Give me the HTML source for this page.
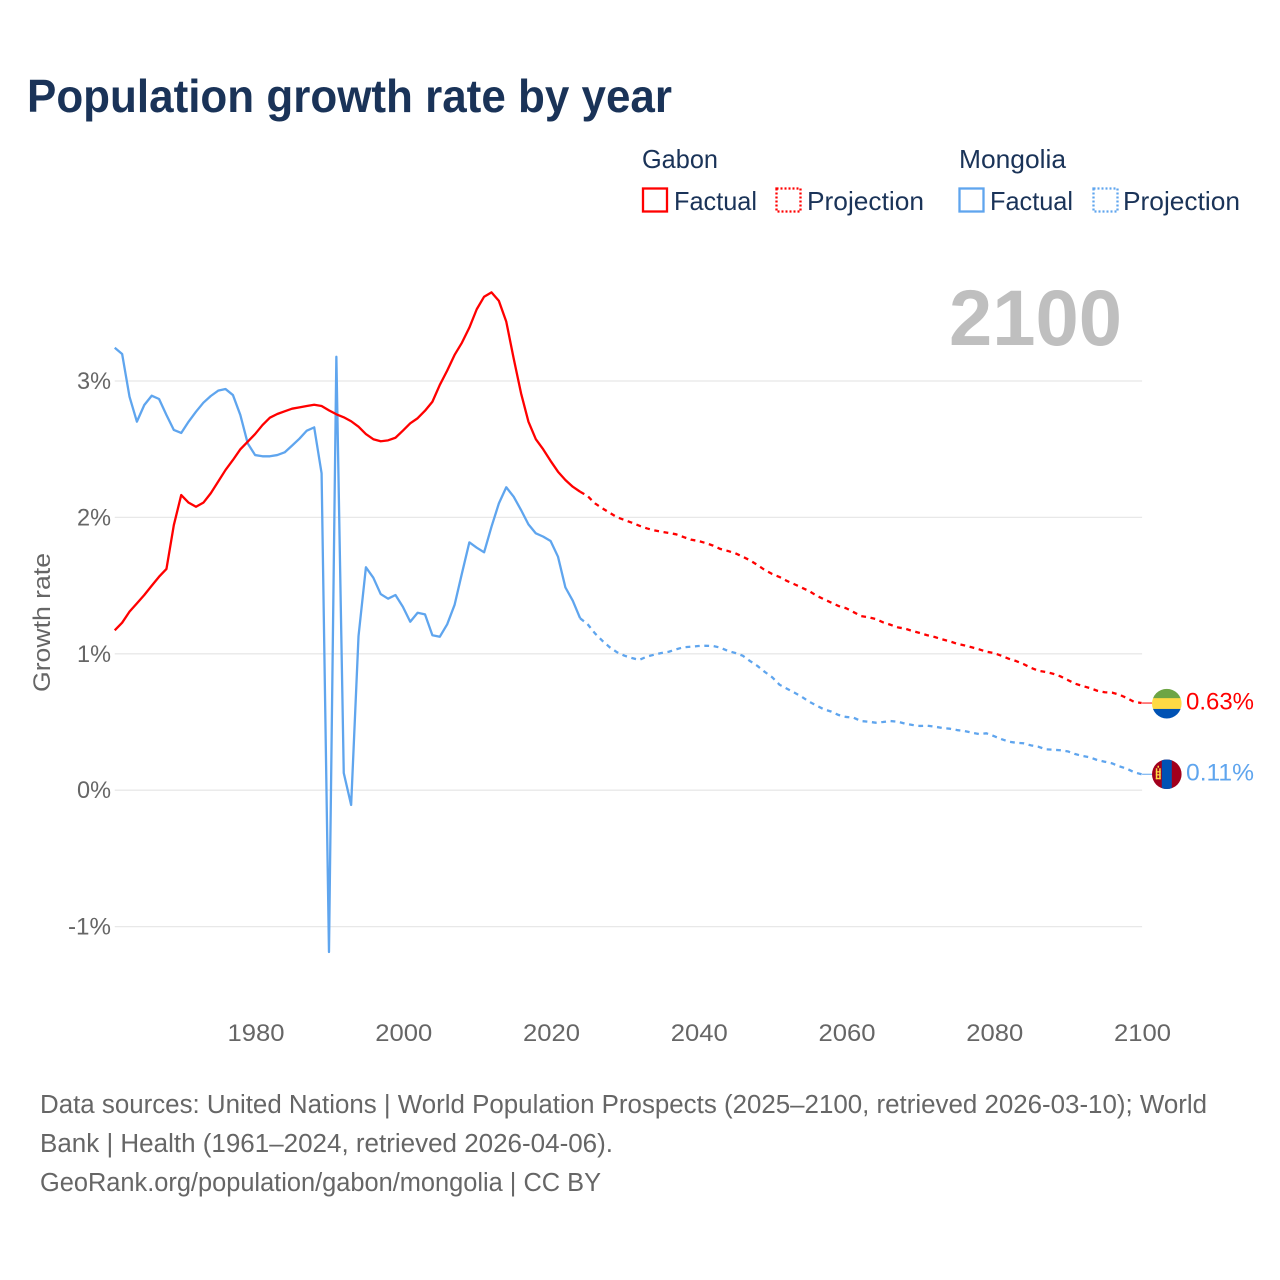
<!DOCTYPE html>
<html lang="en">
<head>
<meta charset="utf-8">
<title>Population growth rate by year</title>
<style>
html,body{margin:0;padding:0;background:#fff;width:1280px;height:1280px;overflow:hidden}
svg{display:block;font-family:"Liberation Sans",sans-serif}
</style>
</head>
<body>
<svg id="chart" xmlns="http://www.w3.org/2000/svg" width="1280" height="1280" viewBox="0 0 1280 1280">
  <rect width="1280" height="1280" fill="#ffffff"/>
  <text x="27" y="112" font-size="46" font-weight="700" fill="#1a3358" textLength="645" lengthAdjust="spacingAndGlyphs">Population growth rate by year</text>

  <g font-size="26" fill="#1a3358">
    <text x="642" y="168" textLength="76" lengthAdjust="spacingAndGlyphs">Gabon</text>
    <text x="959" y="168" textLength="107" lengthAdjust="spacingAndGlyphs">Mongolia</text>
    <g>
      <rect x="643" y="188.5" width="24" height="23" fill="none" stroke="#ff0000" stroke-width="2.3"/>
      <text x="674" y="210" textLength="83" lengthAdjust="spacingAndGlyphs">Factual</text>
    </g>
    <g>
      <rect x="776.5" y="188.5" width="24" height="23" fill="none" stroke="#ff0000" stroke-width="2.3" stroke-dasharray="2 2"/>
      <text x="807" y="210" textLength="117" lengthAdjust="spacingAndGlyphs">Projection</text>
    </g>
    <g>
      <rect x="959.5" y="188.5" width="24" height="23" fill="none" stroke="#5fa5ee" stroke-width="2.3"/>
      <text x="990" y="210" textLength="83" lengthAdjust="spacingAndGlyphs">Factual</text>
    </g>
    <g>
      <rect x="1093.5" y="188.5" width="24" height="23" fill="none" stroke="#5fa5ee" stroke-width="2.3" stroke-dasharray="2 2"/>
      <text x="1123" y="210" textLength="117" lengthAdjust="spacingAndGlyphs">Projection</text>
    </g>
  </g>

  <text x="949" y="345" font-size="79" font-weight="700" fill="#bfbfbf" textLength="173" lengthAdjust="spacingAndGlyphs">2100</text>

  <g id="grid"></g>
  <g id="y-axis"></g>
  <g id="x-axis"></g>
  <text transform="translate(50 692) rotate(-90)" font-size="24.5" fill="#666666" textLength="139" lengthAdjust="spacingAndGlyphs">Growth rate</text>
  <g id="series"></g>
  <g id="end-markers"></g>

  <g font-size="25.5" fill="#666666">
    <text x="40" y="1113" textLength="1167" lengthAdjust="spacingAndGlyphs">Data sources: United Nations | World Population Prospects (2025–2100, retrieved 2026-03-10); World</text>
    <text x="40" y="1152" textLength="573" lengthAdjust="spacingAndGlyphs">Bank | Health (1961–2024, retrieved 2026-04-06).</text>
    <text x="40" y="1191" textLength="561" lengthAdjust="spacingAndGlyphs">GeoRank.org/population/gabon/mongolia | CC BY</text>
  </g>
</svg>
<script>
const factualYears = [1961,1962,1963,1964,1965,1966,1967,1968,1969,1970,1971,1972,1973,1974,1975,1976,1977,1978,1979,1980,1981,1982,1983,1984,1985,1986,1987,1988,1989,1990,1991,1992,1993,1994,1995,1996,1997,1998,1999,2000,2001,2002,2003,2004,2005,2006,2007,2008,2009,2010,2011,2012,2013,2014,2015,2016,2017,2018,2019,2020,2021,2022,2023,2024];
const gabonFactual = [1.172,1.228,1.309,1.370,1.431,1.499,1.565,1.622,1.944,2.164,2.108,2.078,2.108,2.177,2.262,2.348,2.421,2.499,2.555,2.611,2.677,2.731,2.758,2.778,2.797,2.807,2.817,2.826,2.817,2.785,2.756,2.734,2.705,2.665,2.611,2.573,2.558,2.565,2.584,2.636,2.690,2.727,2.782,2.848,2.971,3.076,3.191,3.281,3.391,3.526,3.618,3.650,3.587,3.435,3.166,2.910,2.702,2.573,2.499,2.414,2.335,2.274,2.225,2.188];
const mongoliaFactual = [3.244,3.198,2.885,2.702,2.824,2.892,2.868,2.751,2.641,2.619,2.702,2.775,2.841,2.890,2.929,2.941,2.897,2.751,2.543,2.457,2.448,2.448,2.457,2.477,2.526,2.577,2.636,2.660,2.323,-1.186,3.178,0.126,-0.108,1.130,1.634,1.558,1.438,1.404,1.431,1.345,1.235,1.301,1.289,1.136,1.125,1.216,1.358,1.590,1.817,1.778,1.744,1.932,2.103,2.221,2.152,2.054,1.949,1.883,1.859,1.827,1.712,1.487,1.389,1.260];

const projectionYears = [2024,2025,2026,2027,2028,2029,2030,2031,2032,2033,2034,2035,2036,2037,2038,2039,2040,2041,2042,2043,2044,2045,2046,2047,2048,2049,2050,2051,2052,2053,2054,2055,2056,2057,2058,2059,2060,2061,2062,2063,2064,2065,2066,2067,2068,2069,2070,2071,2072,2073,2074,2075,2076,2077,2078,2079,2080,2081,2082,2083,2084,2085,2086,2087,2088,2089,2090,2091,2092,2093,2094,2095,2096,2097,2098,2099,2100];
const gabonProjection = [2.188,2.157,2.103,2.067,2.034,2.001,1.981,1.961,1.939,1.920,1.905,1.895,1.886,1.876,1.856,1.837,1.827,1.812,1.793,1.768,1.754,1.737,1.712,1.685,1.651,1.614,1.585,1.563,1.534,1.510,1.485,1.460,1.426,1.400,1.375,1.350,1.334,1.306,1.277,1.268,1.255,1.231,1.213,1.194,1.184,1.167,1.152,1.136,1.123,1.106,1.092,1.074,1.062,1.048,1.033,1.015,1.006,0.986,0.964,0.947,0.925,0.898,0.876,0.867,0.854,0.835,0.808,0.781,0.764,0.749,0.729,0.718,0.715,0.700,0.676,0.647,0.639];
const mongoliaProjection = [1.260,1.218,1.150,1.096,1.048,1.011,0.986,0.969,0.955,0.979,0.993,1.006,1.015,1.033,1.048,1.052,1.057,1.059,1.057,1.045,1.021,1.006,0.986,0.947,0.911,0.867,0.828,0.773,0.744,0.715,0.685,0.649,0.620,0.593,0.576,0.551,0.537,0.532,0.507,0.502,0.495,0.500,0.507,0.502,0.488,0.478,0.471,0.473,0.466,0.456,0.451,0.441,0.434,0.422,0.412,0.417,0.397,0.375,0.356,0.348,0.344,0.329,0.319,0.300,0.297,0.293,0.285,0.265,0.251,0.241,0.221,0.209,0.197,0.175,0.158,0.131,0.117];

const xTickYears = [1980,2000,2020,2040,2060,2080,2100];
const yTickValues = [3,2,1,0,-1];
const endLabels = ["0.63%","0.11%"];

const NS = 'http://www.w3.org/2000/svg';
const RED = '#ff0000';
const BLUE = '#5fa5ee';
const xScale = year => 255.1 + (year - 1980) * 7.3875;
const yScale = value => 790.2 - value * 136.4;
const plotLeft = xScale(1961);
const plotRight = xScale(2100) + 0.5;

function svgEl(tag, parent) {
  const el = document.createElementNS(NS, tag);
  parent.appendChild(el);
  return el;
}

const grid = document.getElementById('grid');
const yAxis = document.getElementById('y-axis');
const xAxis = document.getElementById('x-axis');
const series = document.getElementById('series');
const markers = document.getElementById('end-markers');

yTickValues.forEach(v => {
  const line = svgEl('line', grid);
  
  
  line.setAttribute('x1', plotLeft);
  line.setAttribute('x2', plotRight);
  line.setAttribute('y1', yScale(v));
  line.setAttribute('y2', yScale(v));
  line.setAttribute('stroke', '#e8e8e8');
  line.setAttribute('stroke-width', '1.3');

  const label = svgEl('text', yAxis);
  
  
  const width = v < 0 ? 43 : 34;
  label.setAttribute('x', 111 - width);
  label.setAttribute('y', yScale(v) + 8);
  label.setAttribute('font-size', '24');
  label.setAttribute('fill', '#666666');
  label.setAttribute('textLength', width);
  label.setAttribute('lengthAdjust', 'spacingAndGlyphs');
  label.textContent = v + '%';
});

xTickYears.forEach(year => {
  const label = svgEl('text', xAxis);
  
  
  label.setAttribute('x', xScale(year) - 27.6);
  label.setAttribute('y', 1041);
  label.setAttribute('font-size', '24');
  label.setAttribute('fill', '#666666');
  label.setAttribute('textLength', '57');
  label.setAttribute('lengthAdjust', 'spacingAndGlyphs');
  label.textContent = year;
});

function drawLine(years, values, color, dashed, name) {
  const path = svgEl('path', series);
  
  
  path.setAttribute('d', values.map((v, i) => (i ? 'L' : 'M') + xScale(years[i]).toFixed(2) + ' ' + yScale(v).toFixed(2)).join(' '));
  path.setAttribute('fill', 'none');
  path.setAttribute('stroke', color);
  path.setAttribute('stroke-width', '2.3');
  path.setAttribute('stroke-linejoin', 'round');
  if (dashed) path.setAttribute('stroke-dasharray', '4.8 4.6');
}

drawLine(factualYears, mongoliaFactual, BLUE, false, 'mongolia-factual-line');
drawLine(projectionYears, mongoliaProjection, BLUE, true, 'mongolia-projection-line');
drawLine(factualYears, gabonFactual, RED, false, 'gabon-factual-line');
drawLine(projectionYears, gabonProjection, RED, true, 'gabon-projection-line');

function drawLabel(value, text, color, name) {
  const y = yScale(value);
  const stub = svgEl('line', markers);
  
  
  stub.setAttribute('x1', plotRight);
  stub.setAttribute('x2', 1152);
  stub.setAttribute('y1', y);
  stub.setAttribute('y2', y);
  stub.setAttribute('stroke', color);
  stub.setAttribute('stroke-width', '1');
  const label = svgEl('text', markers);
  
  
  label.setAttribute('x', 1186);
  label.setAttribute('y', y + 6.5);
  label.setAttribute('font-size', '24.5');
  label.setAttribute('fill', color);
  label.setAttribute('textLength', '68');
  label.setAttribute('lengthAdjust', 'spacingAndGlyphs');
  label.textContent = text;
}

function flagRect(group, x, y, w, h, fill) {
  const r = svgEl('rect', group);
  
  
  r.setAttribute('x', x);
  r.setAttribute('y', y);
  r.setAttribute('width', w);
  r.setAttribute('height', h);
  r.setAttribute('fill', fill);
}

const defs = svgEl('defs', markers);
const clip = svgEl('clipPath', defs);
clip.setAttribute('id', 'flag-clip');
const clipCircle = svgEl('circle', clip);
clipCircle.setAttribute('r', '14.8');

const gabonLast = gabonProjection[gabonProjection.length - 1];
const mongoliaLast = mongoliaProjection[mongoliaProjection.length - 1];

drawLabel(gabonLast, endLabels[0], RED, 'gabon');
drawLabel(mongoliaLast, endLabels[1], BLUE, 'mongolia');

const gabonFlag = svgEl('g', markers);


gabonFlag.setAttribute('transform', 'translate(1166.8 ' + (yScale(gabonLast) + 0.6) + ')');
gabonFlag.setAttribute('clip-path', 'url(#flag-clip)');
flagRect(gabonFlag, -15, -15, 30, 10, '#6da544');
flagRect(gabonFlag, -15, -5.5, 30, 11, '#ffda44');
flagRect(gabonFlag, -15, 5.3, 30, 10, '#0052b4');

const mongoliaFlag = svgEl('g', markers);


mongoliaFlag.setAttribute('transform', 'translate(1166.8 ' + yScale(mongoliaLast) + ')');
mongoliaFlag.setAttribute('clip-path', 'url(#flag-clip)');
flagRect(mongoliaFlag, -15, -15, 30, 30, '#a2001d');
flagRect(mongoliaFlag, -5, -15, 10, 30, '#0052b4');
flagRect(mongoliaFlag, -11, -6, 1.5, 11, '#ffda44');
flagRect(mongoliaFlag, -7.6, -6, 1.5, 11, '#ffda44');
flagRect(mongoliaFlag, -11, -3, 4.9, 1.2, '#ffda44');
flagRect(mongoliaFlag, -11, 0, 4.9, 1.2, '#ffda44');
flagRect(mongoliaFlag, -11, 3.6, 4.9, 1.4, '#ffda44');
flagRect(mongoliaFlag, -9.3, -8.5, 1.5, 2, '#ffda44');
</script>
</body>
</html>
